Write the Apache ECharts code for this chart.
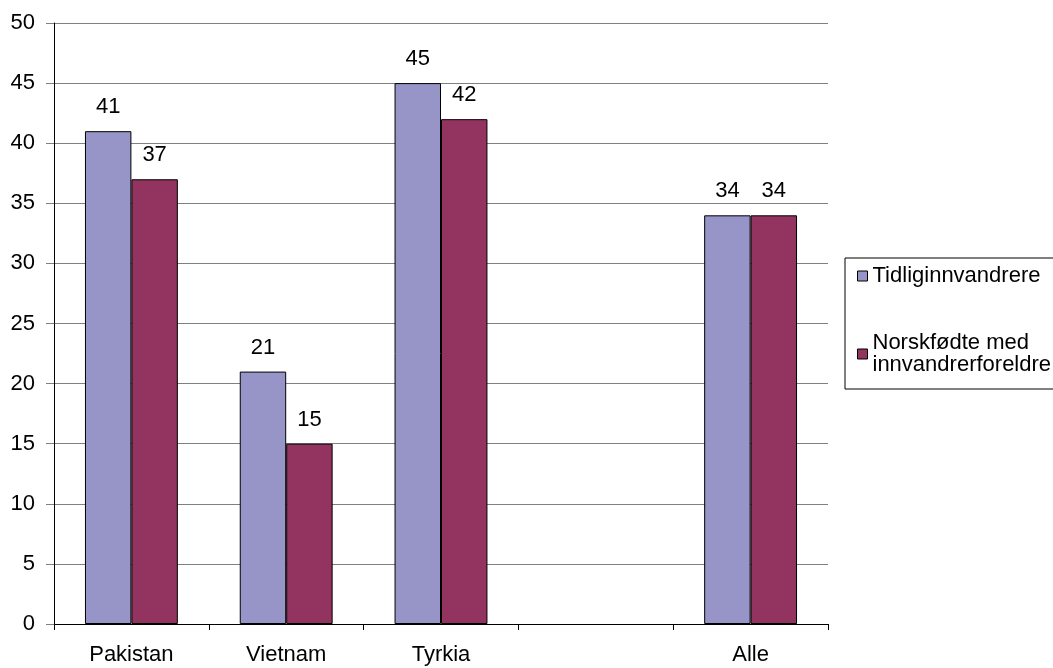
<!DOCTYPE html>
<html lang="no">
<head>
    <meta charset="UTF-8">
    <title></title>
    <style>
        html, body { margin: 0; padding: 0; width: 100%; height: 100%; background: #fff; }
        #main { width: 1053px; height: 668px; }
    </style>
</head>
<body>
    <div id="main"></div>
    <script src="https://cdn.jsdelivr.net/npm/echarts@6/dist/echarts.min.js"></script>
    <script type="text/javascript">
        var categories = ['Pakistan', 'Vietnam', 'Tyrkia', '', 'Alle'];
        var seriesNames = ['Tidliginnvandrere', 'Norskfødte med\ninnvandrerforeldre'];
        var tidlig = [41, 21, 45, null, 34];
        var norskfodte = [37, 15, 42, null, 34];
        var colors = ['#9794c8', '#933360'];

        var myChart = echarts.init(document.getElementById('main'));
        var font = 'Liberation Sans, Arial, sans-serif';
        var fs = 22;

        function barSeries(name, data, color) {
            return {
                name: name,
                type: 'bar',
                data: data,
                barGap: '0%',
                barCategoryGap: '40%',
                itemStyle: { color: color, borderColor: '#000', borderWidth: 1 },
                label: {
                    show: true,
                    position: 'top',
                    distance: 13,
                    color: '#000',
                    fontSize: fs,
                    fontFamily: font
                }
            };
        }

        var option = {
            animation: false,
            textStyle: { fontFamily: font },
            grid: { left: 54, right: 225, top: 23, bottom: 44 },
            legend: {
                orient: 'vertical',
                left: 845,
                top: 258,
                padding: [7, 12, 13, 12],
                borderColor: '#000',
                borderWidth: 1,
                itemWidth: 10,
                itemHeight: 10,
                itemGap: 45,
                itemTextGap: 9,
                icon: 'rect',
                textStyle: { fontSize: fs, color: '#000', fontFamily: font, lineHeight: 22 },
                data: [
                    { name: seriesNames[0], itemStyle: { borderColor: '#000', borderWidth: 1 } },
                    { name: seriesNames[1], itemStyle: { borderColor: '#000', borderWidth: 1 } }
                ]
            },
            xAxis: {
                type: 'category',
                data: categories,
                axisLine: { lineStyle: { color: '#000' } },
                axisTick: { show: true, length: 6, lineStyle: { color: '#000' } },
                axisLabel: { color: '#000', fontSize: fs, margin: 20, fontFamily: font }
            },
            yAxis: {
                type: 'value',
                min: 0,
                max: 50,
                interval: 5,
                axisLine: { show: true, lineStyle: { color: '#000' } },
                axisTick: { show: true, length: 8, inside: false, lineStyle: { color: '#808080' } },
                axisLabel: { color: '#000', fontSize: fs, margin: 19, fontFamily: font },
                splitLine: { lineStyle: { color: '#808080', width: 1 } }
            },
            series: [
                barSeries(seriesNames[0], tidlig, colors[0]),
                barSeries(seriesNames[1], norskfodte, colors[1])
            ]
        };
        myChart.setOption(option);
    </script>
</body>
</html>
